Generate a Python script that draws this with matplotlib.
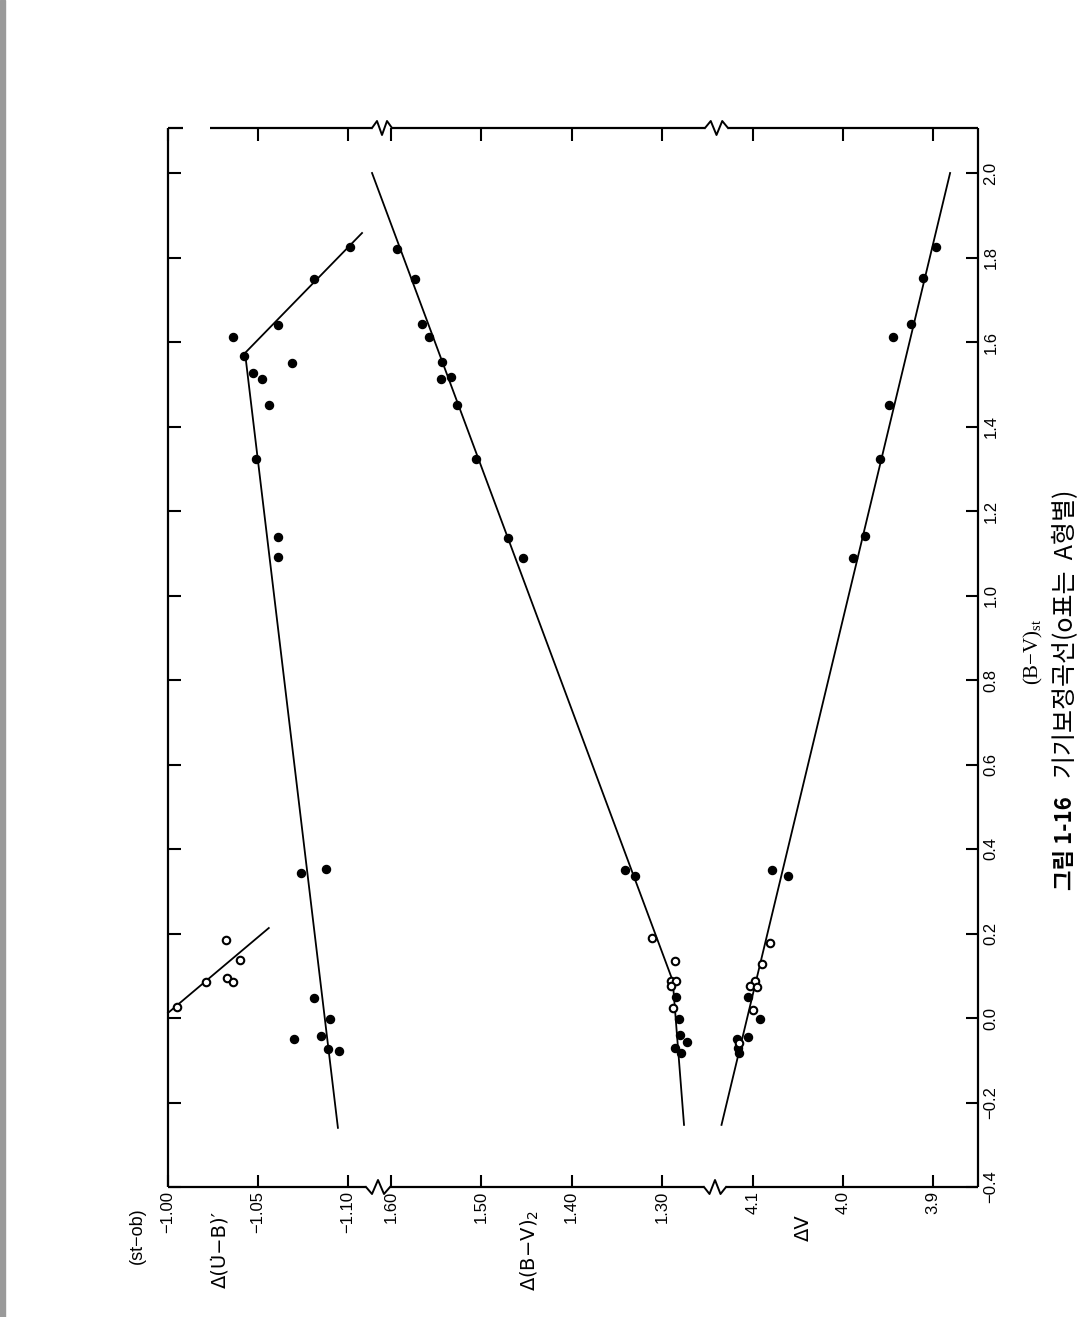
import matplotlib
matplotlib.use("Agg")
import matplotlib.pyplot as plt
from matplotlib import font_manager as fm
from matplotlib.patches import Rectangle

W, H, DPI = 1083, 1317, 100

# ---------------- data ----------------
# vertical axis: (B-V)st ; horizontal: Δ(U-B)', Δ(B-V), ΔV
ub_k_bvst = [1.612, 1.567, 1.527, 1.512, 1.451, 1.550, 1.640, 1.749, 1.825, 1.323,
             1.138, 1.091, 0.353, 0.343, 0.047, -0.002, -0.050, -0.043, -0.073, -0.078]
ub_k = [-1.036, -1.042, -1.047, -1.052, -1.056, -1.069, -1.061, -1.081, -1.101, -1.049,
        -1.061, -1.061, -1.088, -1.074, -1.081, -1.090, -1.070, -1.085, -1.089, -1.095]
ub_a_bvst = [0.026, 0.085, 0.185, 0.095, 0.085, 0.137]
ub_a = [-1.005, -1.021, -1.032, -1.033, -1.036, -1.040]
ub_fit_bvst = [-0.26, 1.574, 1.858]
ub_fit = [-1.0944, -1.0428, -1.1078]
ub_afit_bvst = [0.012, 0.213]
ub_afit = [-1.000, -1.056]

bv_k_bvst = [1.820, 1.749, 1.643, 1.612, 1.553, 1.512, 1.517, 1.451, 1.323, 1.136, 1.089,
             0.350, 0.336, 0.050, -0.002, -0.040, -0.057, -0.071, -0.083]
bv_k = [1.593, 1.573, 1.566, 1.558, 1.544, 1.545, 1.534, 1.527, 1.506, 1.470, 1.454,
        1.341, 1.330, 1.284, 1.281, 1.280, 1.272, 1.285, 1.279]
bv_a_bvst = [0.189, 0.135, 0.088, 0.088, 0.076, 0.024]
bv_a = [1.311, 1.285, 1.290, 1.284, 1.290, 1.288]
bv_fit_bvst = [-0.253, 0.088, 2.0]
bv_fit = [1.2755, 1.288, 1.621]

v_k_bvst = [1.826, 1.751, 1.643, 1.612, 1.451, 1.323, 1.141, 1.089, 0.350, 0.336,
            0.050, -0.002, -0.045, -0.050, -0.071, -0.083]
v_k = [3.897, 3.911, 3.924, 3.944, 3.949, 3.959, 3.976, 3.989, 4.079, 4.061,
       4.106, 4.092, 4.106, 4.118, 4.117, 4.116]
v_a_bvst = [0.178, 0.128, 0.088, 0.076, 0.073, 0.019, -0.059]
v_a = [4.081, 4.090, 4.098, 4.103, 4.096, 4.100, 4.116]
v_fit_bvst = [-0.253, 2.0]
v_fit = [4.135, 3.881]

ub_ticks = [-1.00, -1.05, -1.10]
ub_labels = ["\u22121.00", "\u22121.05", "\u22121.10"]
bv_ticks = [1.60, 1.50, 1.40, 1.30]
bv_labels = ["1.60", "1.50", "1.40", "1.30"]
v_ticks = [4.1, 4.0, 3.9]
v_labels = ["4.1", "4.0", "3.9"]
bvst_ticks = [-0.4, -0.2, 0.0, 0.2, 0.4, 0.6, 0.8, 1.0, 1.2, 1.4, 1.6, 1.8, 2.0]
bvst_labels = ["\u22120.4", "\u22120.2", "0.0", "0.2", "0.4", "0.6", "0.8", "1.0",
               "1.2", "1.4", "1.6", "1.8", "2.0"]

# ---------------- fonts ----------------
names = {f.name for f in fm.fontManager.ttflist}
narrow = "Liberation Sans Narrow" if "Liberation Sans Narrow" in names else "Liberation Sans"
kr = ["Noto Sans CJK KR", "DejaVu Sans"]

# ---------------- layout helpers (pixel geometry) ----------------
L, R, T, B = 168, 978, 128, 1187


def fig_xy(px, py):
    return px / W, 1 - py / H


fig = plt.figure(figsize=(W / DPI, H / DPI), dpi=DPI)
fig.patch.set_facecolor("white")
pos = [L / W, 1 - B / H, (R - L) / W, (B - T) / H]

ax = fig.add_axes(pos)            # Δ(U-B)'
ax_bv = fig.add_axes(pos)         # Δ(B-V)
ax_v = fig.add_axes(pos)          # ΔV

ylim = (-0.4, 2.0 + (173 - T) / 422.5)
for a in (ax, ax_bv, ax_v):
    a.set_ylim(*ylim)
    a.patch.set_visible(False)
    for s in a.spines.values():
        s.set_visible(False)

ax.set_xlim(-1.00, -1.00 - (R - L) / 1800)
ax_bv.set_xlim(1.60 + (391 - L) / 903, 1.60 - (R - 391) / 903)
ax_v.set_xlim(4.1 + (753 - L) / 900, 4.1 - (R - 753) / 900)

lw_line = 1.3
ms_f = 5.8
ms_o = 5.4
mew_o = 1.5

# U-B
ax.plot(ub_fit, ub_fit_bvst, color="black", lw=lw_line, clip_on=False)
ax.plot(ub_afit, ub_afit_bvst, color="black", lw=lw_line, clip_on=False)
ax.plot(ub_k, ub_k_bvst, "o", color="black", ms=ms_f, clip_on=False)
ax.plot(ub_a, ub_a_bvst, "o", mfc="white", mec="black", mew=mew_o, ms=ms_o, clip_on=False)
# B-V
ax_bv.plot(bv_fit, bv_fit_bvst, color="black", lw=lw_line, clip_on=False)
ax_bv.plot(bv_k, bv_k_bvst, "o", color="black", ms=ms_f, clip_on=False)
ax_bv.plot(bv_a, bv_a_bvst, "o", mfc="white", mec="black", mew=mew_o, ms=ms_o, clip_on=False)
# V
ax_v.plot(v_fit, v_fit_bvst, color="black", lw=lw_line, clip_on=False)
ax_v.plot(v_k, v_k_bvst, "o", color="black", ms=ms_f, clip_on=False)
ax_v.plot(v_a, v_a_bvst, "o", mfc="white", mec="black", mew=mew_o, ms=ms_o, clip_on=False)

# ---------------- ticks ----------------
tick_kw = dict(direction="in", length=9, width=1.5, color="black")
for a, tks, lbs in ((ax, ub_ticks, ub_labels), (ax_bv, bv_ticks, bv_labels), (ax_v, v_ticks, v_labels)):
    a.set_xticks(tks)
    a.set_xticklabels(lbs, rotation=90, ha="center", va="top", fontsize=12, family=narrow)
    a.tick_params(axis="x", bottom=True, top=True, labelbottom=True, labeltop=False, pad=3, **tick_kw)
    a.set_yticks([])

ax.set_yticks(bvst_ticks)
ax.set_yticklabels(bvst_labels, rotation=90, ha="left", va="center", fontsize=12, family=narrow)
ax.tick_params(axis="y", left=True, right=True, labelleft=False, labelright=True, pad=4, **tick_kw)

# ---------------- frame with axis breaks ----------------
def fx(px):
    return (px - L) / (R - L)


def fy(py):
    return (B - py) / (B - T)


frame_kw = dict(color="black", lw=1.6, transform=ax.transAxes, clip_on=False, solid_capstyle="butt")


def hseg(x0, x1, y):
    ax.plot([fx(x0), fx(x1)], [fy(y), fy(y)], **frame_kw)


def zigzag(x0, x1, y, amp):
    xs = [x0, x0 + (x1 - x0) * 0.25, x0 + (x1 - x0) * 0.5, x0 + (x1 - x0) * 0.75, x1]
    ys = [y, y + amp, y - amp, y + amp, y]
    ax.plot([fx(v) for v in xs], [fy(v) for v in ys], color="black", lw=1.4,
            transform=ax.transAxes, clip_on=False)


# left and right
ax.plot([0, 0], [fy(B), fy(T)], **frame_kw)
ax.plot([1, 1], [fy(B), fy(T)], **frame_kw)
# bottom
hseg(L, 366, B)
zigzag(366, 390, B, 7)
hseg(390, 704, B)
zigzag(704, 726, B, 7)
hseg(726, R, B)
# top
hseg(L, 183, T)
hseg(210, 372, T)
zigzag(372, 392, T, -7)
hseg(392, 705, T)
zigzag(705, 728, T, -7)
hseg(728, R, T)

# ---------------- axis titles & caption ----------------
fig.text(*fig_xy(137, 1236), "(st\u2212ob)", rotation=90, ha="center", va="center", fontsize=13, family="Liberation Sans")
fig.text(*fig_xy(220, 1250), "\u0394(U\u0307\u2212B)\u2032", rotation=90, ha="center", va="center", fontsize=14, family="DejaVu Sans")
fig.text(*fig_xy(530, 1250), "\u0394(B\u2212V)$_\\mathregular{2}$", rotation=90, ha="center", va="center", fontsize=14, family="DejaVu Sans")
fig.text(*fig_xy(803, 1228), "\u0394V", rotation=90, ha="center", va="center", fontsize=14, family="DejaVu Sans")
fig.text(*fig_xy(1033, 652), "(B\u2212V)$_\\mathregular{st}$", rotation=90, ha="center", va="center", fontsize=15, family="Liberation Serif")
fig.text(*fig_xy(1066, 890), "그림 1-16", rotation=90, ha="center", va="bottom", fontsize=16, fontweight="bold", family=kr)
fig.text(*fig_xy(1066, 778), "기기보정곡선(o표는  A형별)", rotation=90, ha="center", va="bottom", fontsize=18, family=kr)

# page edge strip
fig.patches.append(Rectangle((0, 0), 5 / W, 1, transform=fig.transFigure, color="#9a9a9a", zorder=0))

fig.savefig("out.png", dpi=DPI, facecolor="white")
